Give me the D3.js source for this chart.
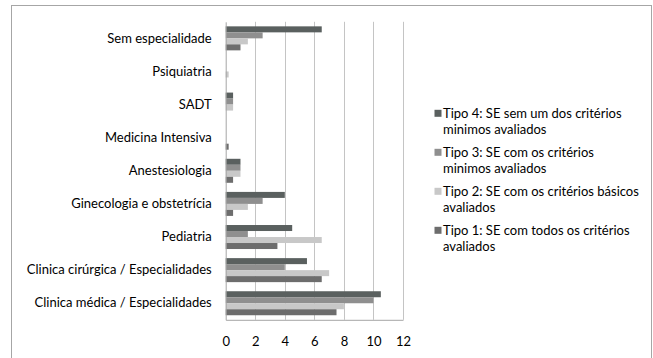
<!DOCTYPE html>
<html><head><meta charset="utf-8">
<script src="https://cdn.jsdelivr.net/npm/d3@7"></script>
<style>body{margin:0;background:#fff}svg{display:block}text{font-family:Lato,"Open Sans",sans-serif;fill:#000}</style>
</head><body><svg id="c" width="653" height="358"></svg>
<script>
const categories = ["Sem especialidade","Psiquiatria","SADT","Medicina Intensiva","Anestesiologia","Ginecologia e obstetrícia","Pediatria","Clinica cirúrgica / Especialidades","Clinica médica / Especialidades"];
const seriesNames = ["Tipo 4: SE sem um dos critérios minimos avaliados","Tipo 3: SE com os critérios minimos avaliados","Tipo 2: SE com os critérios básicos avaliados","Tipo 1: SE com todos os critérios avaliados"];
const legendLines = [["Tipo 4: SE sem um dos critérios","minimos avaliados"],["Tipo 3: SE com os critérios","minimos avaliados"],["Tipo 2: SE com os critérios básicos","avaliados"],["Tipo 1: SE com todos os critérios","avaliados"]];
const tipo4 = [6.5,0,0.5,0,1,4,4.5,5.5,10.5];
const tipo3 = [2.5,0,0.5,0,1,2.5,1.5,4,10];
const tipo2 = [1.5,0.2,0.5,0,1,1.5,6.5,7,8];
const tipo1 = [1,0,0,0.2,0.5,0.5,3.5,6.5,7.5];
const seriesValues = [tipo4,tipo3,tipo2,tipo1];
const colors = ["#5a605f","#8f8f8f","#c8c8c8","#6d6d6d"];
const xTicks = [0,2,4,6,8,10,12];

const svg = d3.select("#c");
svg.append("rect").attr("x",11.5).attr("y",5.5).attr("width",640).attr("height",370).attr("fill","#fff").attr("stroke","#a6a6a6");

const x = d3.scaleLinear().domain([0,12]).range([225.7,403]);
const y = d3.scaleBand().domain(categories).range([21.8,319.8]).paddingInner(0.275).paddingOuter(0.1375);
const yi = d3.scaleBand().domain(d3.range(4)).range([0,y.bandwidth()]);

svg.append("g").selectAll("line").data(xTicks.slice(1)).join("line")
  .attr("x1",d=>Math.round(x(d))+0.5).attr("x2",d=>Math.round(x(d))+0.5)
  .attr("y1",21.8).attr("y2",319.8).attr("stroke","#c4c4c4").attr("stroke-width",1);

categories.forEach((c,ci)=>{
  seriesValues.forEach((vals,si)=>{
    if(vals[ci]>0) svg.append("rect").attr("x",x(0)).attr("y",y(c)+yi(si))
      .attr("width",x(vals[ci])-x(0)).attr("height",yi.bandwidth()).attr("fill",colors[si]);
  });
});

const xa = svg.append("g").attr("transform","translate(0,319.8)").call(d3.axisBottom(x).tickValues(xTicks).tickSize(0).tickPadding(17));
xa.select(".domain").attr("stroke","#a6a6a6");
xa.selectAll("text").style("font-family","Lato").style("font-size","13px").attr("fill","#000");
const ya = svg.append("g").attr("transform","translate(225.7,0)").call(d3.axisLeft(y).tickSize(0).tickPadding(14));
ya.select(".domain").attr("stroke","#a6a6a6");
ya.selectAll("text").style("font-family","Lato").style("font-size","13px").attr("fill","#000");

const lg = svg.append("g");
legendLines.forEach((ls,i)=>{
  const cy = 113.3 + i*39;
  lg.append("rect").attr("x",434.5).attr("y",cy-3.5).attr("width",7).attr("height",7).attr("fill",colors[i]);
  ls.forEach((t,j)=>{
    lg.append("text").attr("x",443).attr("y",cy+j*16).attr("dy","0.35em").style("font-size","13px").text(t);
  });
});
</script></body></html>
